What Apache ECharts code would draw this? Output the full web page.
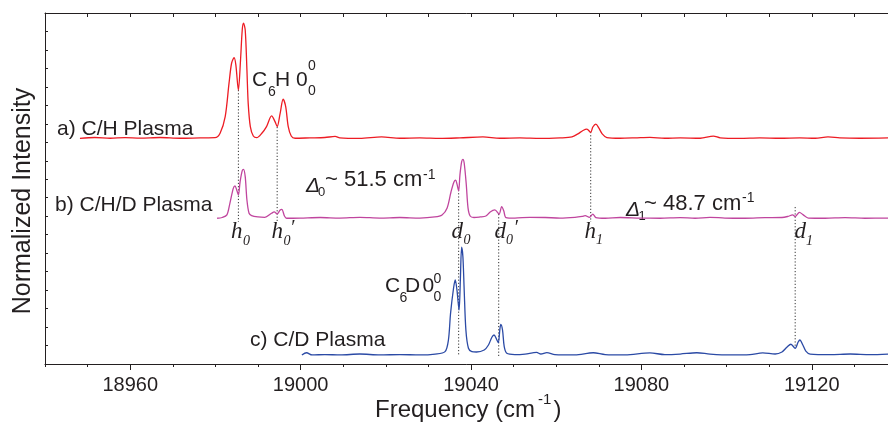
<!DOCTYPE html>
<html>
<head>
<meta charset="utf-8">
<script src="https://cdn.jsdelivr.net/npm/echarts@6/dist/echarts.min.js"></script>
<style>
html, body { margin: 0; padding: 0; background: #fff; }
#chart { width: 888px; height: 424px; }
</style>
</head>
<body>
<div id="chart"></div>
<script>
// spectra, [frequency (cm-1), stacked normalized intensity]
const traceCH = [
  [18948.2, 12.21], [18951.7, 12.26], [18955.3, 12.22], [18958.8, 12.25], [18962.3, 12.23],
  [18967.0, 12.26], [18971.7, 12.22], [18976.4, 12.24], [18979.9, 12.25], [18981.1, 12.49],
  [18982.3, 13.39], [18983.2, 15.20], [18983.8, 16.28], [18984.4, 16.58], [18984.8, 16.19],
  [18985.4, 14.83], [18985.9, 16.46], [18986.3, 18.08], [18986.6, 18.45], [18987.0, 18.08],
  [18987.4, 15.92], [18987.7, 14.11], [18988.2, 12.85], [18988.9, 12.34], [18989.7, 12.25],
  [18990.9, 12.49], [18992.0, 12.85], [18993.2, 13.43], [18994.0, 13.12], [18994.5, 12.85],
  [18995.2, 13.57], [18995.9, 14.33], [18996.5, 13.93], [18997.1, 12.85], [18997.8, 12.34],
  [18998.7, 12.22], [19002.2, 12.24], [19005.7, 12.26], [19008.1, 12.32], [19009.2, 12.24],
  [19013.9, 12.21], [19019.0, 12.29], [19023.3, 12.22], [19028.0, 12.24], [19032.7, 12.21],
  [19037.4, 12.24], [19042.8, 12.29], [19046.8, 12.22], [19051.5, 12.24], [19056.2, 12.21],
  [19060.9, 12.24], [19063.7, 12.29], [19065.1, 12.46], [19066.3, 12.64], [19067.2, 12.71],
  [19068.1, 12.54], [19068.6, 12.83], [19069.3, 12.99], [19070.0, 12.78], [19070.8, 12.46],
  [19071.9, 12.26], [19075.0, 12.22], [19078.5, 12.24], [19082.0, 12.27], [19085.5, 12.22],
  [19089.1, 12.24], [19093.8, 12.22], [19096.9, 12.34], [19098.5, 12.24], [19103.1, 12.21],
  [19107.8, 12.24], [19112.5, 12.22], [19117.2, 12.24], [19120.8, 12.22], [19123.8, 12.29],
  [19126.6, 12.24], [19131.3, 12.22], [19137.9, 12.24]
];
const traceCHD = [
  [18980.4, 7.89], [18981.6, 7.93], [18982.7, 8.07], [18983.4, 8.70], [18984.2, 9.51],
  [18984.6, 9.64], [18985.0, 9.42], [18985.4, 9.15], [18985.8, 9.87], [18986.3, 10.47],
  [18986.6, 10.54], [18987.0, 10.14], [18987.4, 8.88], [18987.9, 8.16], [18988.5, 8.03],
  [18990.0, 7.96], [18991.6, 7.94], [18993.2, 8.16], [18993.8, 8.23], [18994.5, 8.12],
  [18995.2, 8.34], [18995.6, 8.37], [18996.2, 8.02], [18996.7, 7.89], [18999.9, 7.90],
  [19004.6, 7.93], [19009.2, 7.90], [19013.9, 7.94], [19018.6, 7.90], [19023.3, 7.93],
  [19028.0, 7.90], [19031.5, 7.96], [19033.2, 8.07], [19034.4, 8.45], [19035.3, 9.31],
  [19036.0, 9.85], [19036.4, 9.95], [19036.7, 9.75], [19037.1, 9.37], [19037.4, 10.23],
  [19037.8, 10.94], [19038.1, 11.08], [19038.4, 10.88], [19038.9, 9.69], [19039.3, 8.45],
  [19039.8, 8.01], [19040.7, 7.93], [19042.1, 7.96], [19043.5, 8.01], [19044.5, 8.23],
  [19045.6, 8.34], [19046.6, 8.11], [19047.2, 8.52], [19047.7, 8.28], [19048.2, 7.93],
  [19050.3, 7.90], [19053.8, 7.94], [19057.4, 7.93], [19060.9, 7.90], [19064.4, 7.94],
  [19066.1, 7.99], [19066.8, 8.03], [19067.8, 7.94], [19068.6, 8.11], [19069.3, 7.93],
  [19071.5, 7.89], [19075.0, 7.93], [19079.7, 7.90], [19084.4, 7.89], [19089.1, 7.92],
  [19092.6, 7.89], [19096.1, 7.94], [19099.6, 7.90], [19104.3, 7.89], [19109.0, 7.92],
  [19113.0, 7.93], [19114.4, 7.99], [19115.5, 8.07], [19116.1, 7.98], [19117.1, 8.21],
  [19118.0, 8.07], [19119.2, 7.90], [19123.1, 7.89], [19127.8, 7.92], [19132.5, 7.89],
  [19137.9, 7.90]
];
const traceCD = [
  [19000.3, 0.49], [19001.4, 0.61], [19002.7, 0.49], [19005.7, 0.51], [19009.3, 0.49],
  [19013.9, 0.54], [19018.6, 0.49], [19023.3, 0.51], [19028.0, 0.49], [19031.6, 0.54],
  [19033.9, 0.67], [19034.7, 1.30], [19035.2, 2.74], [19035.9, 4.10], [19036.3, 4.55],
  [19036.7, 4.01], [19037.2, 2.92], [19037.5, 4.55], [19037.8, 6.32], [19038.1, 5.81],
  [19038.4, 4.01], [19038.8, 1.84], [19039.4, 0.85], [19040.2, 0.67], [19041.3, 0.65],
  [19043.1, 0.76], [19044.1, 1.03], [19044.9, 1.45], [19045.4, 1.57], [19046.0, 1.34],
  [19046.4, 1.15], [19046.8, 1.93], [19047.0, 2.15], [19047.4, 1.84], [19047.8, 0.94],
  [19048.4, 0.58], [19050.3, 0.51], [19052.7, 0.54], [19055.4, 0.63], [19056.4, 0.54],
  [19057.8, 0.62], [19059.7, 0.51], [19064.4, 0.49], [19068.7, 0.61], [19071.5, 0.51],
  [19076.2, 0.49], [19082.0, 0.60], [19085.5, 0.51], [19089.1, 0.54], [19093.0, 0.61],
  [19096.1, 0.54], [19100.8, 0.49], [19105.5, 0.51], [19108.5, 0.60], [19111.4, 0.54],
  [19113.0, 0.65], [19114.2, 0.92], [19115.1, 1.07], [19116.1, 0.85], [19116.8, 1.19],
  [19117.2, 1.30], [19117.9, 1.03], [19118.6, 0.70], [19119.6, 0.54], [19124.3, 0.51],
  [19129.0, 0.54], [19133.7, 0.51], [19137.9, 0.54]
];

// dotted guides: h0, h0', d0, d0', h1, d1
const guideFreq = [18985.4, 18994.5, 19037.1, 19046.5, 19068.1, 19116.1];
const guideTop = [14.83, 12.83, 9.42, 8.12, 12.56, 8.50];
const guideBottom = [7.69, 7.69, 0.43, 0.43, 7.69, 0.87];

const majorTicks = [18960, 19000, 19040, 19080, 19120];

const xMin = 18940, xMax = 19140;
const ink = '#231f20';

let chart = echarts.init(document.getElementById('chart'));

function txt(s, x, y, size, extra) {
    return Object.assign({
        type: 'text', x: x, y: y, silent: true,
        style: {
            text: s,
            font: size + 'px "Liberation Sans", Arial, sans-serif',
            fill: ink, align: 'left', verticalAlign: 'middle'
        }
    }, extra || {});
}
function itxt(s, x, y, size) {
    let t = txt(s, x, y, size);
    t.style.font = 'italic ' + size + 'px "Liberation Serif", "Times New Roman", serif';
    return t;
}
function dtxt(s, x, y, size) {
    let t = txt(s, x, y, size);
    t.style.font = 'italic ' + size + 'px "Liberation Sans", Arial, sans-serif';
    return t;
}

let guideSeries = guideFreq.map(function (f, i) {
    return {
        type: 'line',
        data: [[f, guideTop[i]], [f, guideBottom[i]]],
        symbol: 'none', silent: true, z: 1,
        lineStyle: { color: '#333', width: 1, type: [1.2, 2] }
    };
});

function spectrum(data, color) {
    return {
        type: 'line', data: data, symbol: 'none', smooth: 0.3, z: 3,
        lineStyle: { color: color, width: 1.3 }
    };
}

let yTitle = txt('Normalized Intensity', 23, 201, 25);
yTitle.style.align = 'center';
yTitle.rotation = Math.PI / 2;

let option = {
    animation: false,
    grid: { left: 45, top: 13, width: 852, height: 351, outerBoundsMode: 'none' },
    xAxis: [
        {
            type: 'value', min: xMin, max: xMax, position: 'bottom',
            axisLine: { onZero: false, lineStyle: { color: ink, width: 1 } },
            axisTick: { customValues: majorTicks, length: 6, lineStyle: { color: ink } },
            axisLabel: {
                customValues: majorTicks, margin: 11, color: ink, fontSize: 20,
                fontFamily: '"Liberation Sans", Arial, sans-serif',
                formatter: function (v) { return String(v); }
            },
            splitLine: { show: false }
        },
        {
            type: 'value', min: xMin, max: xMax, position: 'bottom', interval: 10,
            axisLine: { show: false },
            axisTick: { length: 3, lineStyle: { color: ink } },
            axisLabel: { show: false },
            splitLine: { show: false }
        },
        {
            type: 'value', min: xMin, max: xMax, position: 'top', interval: 10,
            axisLine: { onZero: false, lineStyle: { color: ink, width: 1 } },
            axisTick: { inside: true, length: 4, lineStyle: { color: ink } },
            axisLabel: { show: false },
            splitLine: { show: false }
        }
    ],
    yAxis: {
        type: 'value', min: 0, max: 19, interval: 1,
        axisLine: { show: true, onZero: false, lineStyle: { color: ink, width: 1 } },
        axisTick: { show: true, inside: true, length: 3, lineStyle: { color: ink } },
        axisLabel: { show: false },
        splitLine: { show: false }
    },
    series: guideSeries.concat([
        spectrum(traceCH, '#ed1c24'),
        spectrum(traceCHD, '#c0459e'),
        spectrum(traceCD, '#2b4aa5')
    ]),
    graphic: [
        txt('a) C/H Plasma', 57, 129.5, 21),
        txt('b) C/H/D Plasma', 55, 205.5, 21),
        txt('c) C/D Plasma', 250, 340, 21),
        // C6H 0 0 0
        txt('C', 252, 80, 21), txt('6', 268, 92, 14), txt('H', 275, 80, 21),
        txt('0', 296, 80, 21), txt('0', 308, 66.5, 14), txt('0', 308, 91.5, 14),
        // C6D 0 0 0
        txt('C', 385, 286, 21), txt('6', 399.5, 298, 14), txt('D', 405, 286, 21),
        txt('0', 422.5, 286, 21), txt('0', 433.5, 279, 14), txt('0', 433.5, 297, 14),
        // delta annotations
        dtxt('Δ', 306, 186, 21), txt('0', 318, 192, 13), txt('~ 51.5 cm', 325, 180, 22), txt('-1', 423, 175, 14),
        dtxt('Δ', 626, 210, 21), txt('1', 638.5, 216.5, 13), txt('~ 48.7 cm', 644, 203.5, 22), txt('-1', 742, 198.5, 14),
        // peak labels
        itxt('h', 231, 232, 23), itxt('0', 243, 241, 14),
        itxt('h', 271.5, 232, 23), itxt('0', 283.5, 241, 14), itxt('′', 290, 229, 20),
        itxt('d', 451.5, 232, 23), itxt('0', 463.5, 240, 14),
        itxt('d', 494.5, 232, 23), itxt('0', 506, 240, 14), itxt('′', 513.5, 229, 20),
        itxt('h', 584.5, 232, 23), itxt('1', 596, 240, 14),
        itxt('d', 794.5, 232, 23), itxt('1', 806, 241, 14),
        // axis titles
        yTitle,
        txt('Frequency (cm', 375, 410, 24), txt('-1', 538, 400, 15), txt(')', 553.5, 410, 24)
    ]
};

chart.setOption(option);
</script>
</body>
</html>
